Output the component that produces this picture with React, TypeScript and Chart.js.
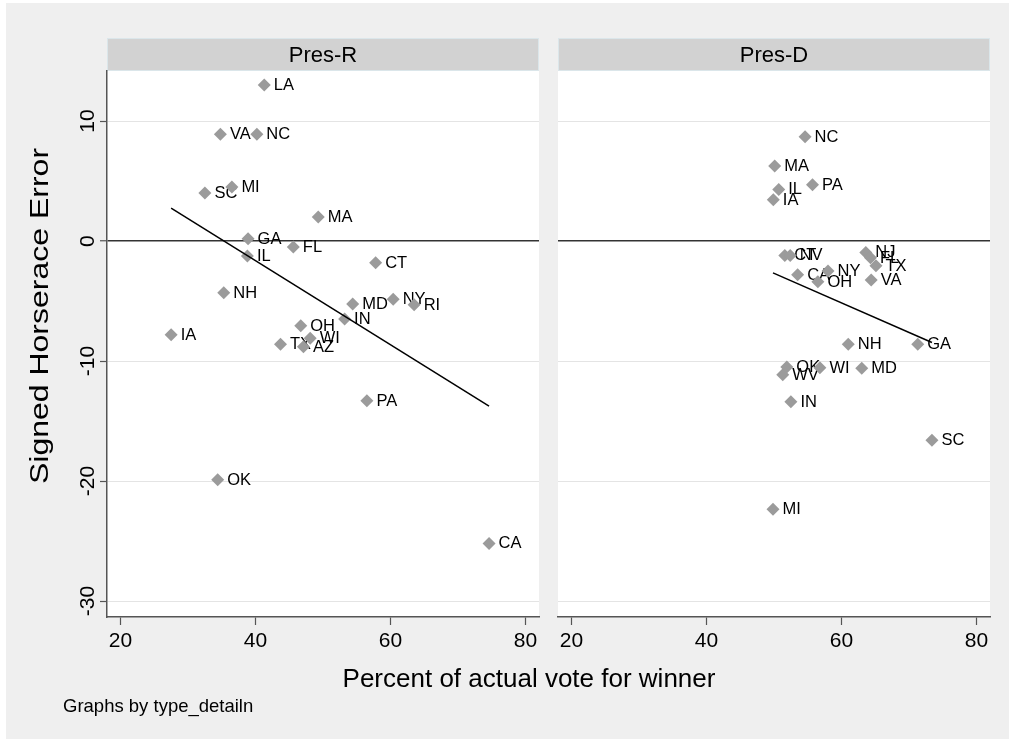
import React, { useEffect, useRef } from "react";
import { Chart, registerables } from "chart.js";
Chart.register(...registerables);

const FONT = '"Liberation Sans", Arial, Helvetica, sans-serif';

// ---- Data ----
const panelTitles = ["Pres-R", "Pres-D"];

const statesR = ["LA", "VA", "NC", "SC", "MI", "MA", "GA", "FL", "IL", "CT", "NH", "MD", "NY", "RI", "IN", "OH", "IA", "WI", "TX", "AZ", "PA", "OK", "CA"];
const voteR = [41.3, 34.8, 40.2, 32.5, 36.5, 49.3, 38.9, 45.6, 38.8, 57.8, 35.3, 54.4, 60.4, 63.5, 53.2, 46.7, 27.5, 48.1, 43.7, 47.1, 56.5, 34.4, 74.6];
const errR = [13.0, 8.9, 8.9, 4.0, 4.5, 2.0, 0.2, -0.5, -1.25, -1.8, -4.3, -5.25, -4.85, -5.3, -6.5, -7.05, -7.8, -8.1, -8.6, -8.8, -13.3, -19.9, -25.2];
const fitR = [
  { x: 27.5, y: 2.75 },
  { x: 74.6, y: -13.75 },
];

const statesD = ["NC", "MA", "PA", "IL", "IA", "CT", "NV", "NJ", "FL", "TX", "CA", "NY", "OH", "VA", "NH", "GA", "MD", "WI", "OK", "WV", "IN", "SC", "MI"];
const voteD = [54.6, 50.1, 55.7, 50.7, 49.9, 51.6, 52.4, 63.6, 64.3, 65.1, 53.5, 58.0, 56.5, 64.4, 61.0, 71.3, 63.0, 56.8, 51.9, 51.3, 52.5, 73.4, 49.85];
const errD = [8.7, 6.25, 4.7, 4.3, 3.45, -1.2, -1.2, -0.95, -1.4, -2.05, -2.8, -2.5, -3.4, -3.25, -8.6, -8.6, -10.6, -10.55, -10.5, -11.15, -13.4, -16.6, -22.35];
const fitD = [
  { x: 49.85, y: -2.65 },
  { x: 73.4, y: -8.45 },
];

const xTicks = [20, 40, 60, 80];
const yTicks = [10, 0, -10, -20, -30];
const xRange = [18, 82];
const yRange = [-31.33, 14.17];

const yTitle = "Signed Horserace Error";
const xTitle = "Percent of actual vote for winner";
const note = "Graphs by type_detailn";

const W = 1015;
const H = 742;
const HEADER_TOP = 38;

function makeConfig(
  title: string,
  states: string[],
  xs: number[],
  ys: number[],
  fit: { x: number; y: number }[],
  isLeft: boolean,
  left: number,
  right: number
): any {
  const pts = xs.map((x, i) => ({ x, y: ys[i] }));

  const framePlugin = {
    id: "frame" + title,
    beforeDraw(chart: any) {
      const { ctx, chartArea: a } = chart;
      ctx.save();
      ctx.fillStyle = "#ffffff";
      ctx.fillRect(a.left, a.top, a.right - a.left, a.bottom - a.top);
      ctx.fillStyle = "#d2d2d2";
      ctx.fillRect(a.left, HEADER_TOP, a.right - a.left, a.top - HEADER_TOP);
      ctx.strokeStyle = "#dbe6ea";
      ctx.lineWidth = 1;
      ctx.strokeRect(a.left + 0.5, HEADER_TOP + 0.5, a.right - a.left - 1, a.top - HEADER_TOP - 1);
      ctx.fillStyle = "#000";
      ctx.font = `22px ${FONT}`;
      ctx.textAlign = "center";
      ctx.textBaseline = "middle";
      ctx.fillText(title, (a.left + a.right) / 2, (HEADER_TOP + a.top) / 2 + 1);
      ctx.restore();
    },
  };

  const labelPlugin = {
    id: "labels" + title,
    beforeDatasetsDraw(chart: any) {
      const ctx = chart.ctx;
      const meta = chart.getDatasetMeta(0);
      ctx.save();
      ctx.font = `16.5px ${FONT}`;
      ctx.fillStyle = "#000";
      ctx.textAlign = "left";
      ctx.textBaseline = "middle";
      meta.data.forEach((el: any, i: number) => {
        ctx.fillText(states[i], el.x + 9.5, el.y + 0.5);
      });
      ctx.restore();
    },
  };

  const textPlugin = {
    id: "texts" + title,
    afterDraw(chart: any) {
      const ctx = chart.ctx;
      ctx.save();
      ctx.fillStyle = "#000";
      if (isLeft) {
        ctx.translate(41, 316);
        ctx.rotate(-Math.PI / 2);
        ctx.scale(1.28, 1);
        ctx.textAlign = "center";
        ctx.textBaseline = "middle";
        ctx.font = `25px ${FONT}`;
        ctx.fillText(yTitle, 0, 0);
      } else {
        ctx.textAlign = "center";
        ctx.textBaseline = "alphabetic";
        ctx.font = `26px ${FONT}`;
        ctx.fillText(xTitle, 529, 687);
        ctx.textAlign = "left";
        ctx.font = `18.5px ${FONT}`;
        ctx.fillText(note, 63, 712);
      }
      ctx.restore();
    },
  };

  const gridColor = (c: any) => (c.tick && c.tick.value === 0 ? "#333333" : "#e4e4e4");
  const gridWidth = (c: any) => (c.tick && c.tick.value === 0 ? 1.5 : 1);

  return {
    type: "scatter",
    data: {
      datasets: [
        {
          data: pts,
          pointStyle: "rectRot",
          pointRadius: 6.5,
          pointHoverRadius: 6.5,
          backgroundColor: "#9b9b9b",
          borderColor: "#9b9b9b",
          borderWidth: 0,
          showLine: false,
          order: 1,
        },
        {
          data: fit,
          showLine: true,
          pointRadius: 0,
          borderColor: "#000000",
          borderWidth: 1.5,
          order: 0,
        },
      ],
    },
    options: {
      animation: false,
      responsive: false,
      devicePixelRatio: 1,
      events: [],
      layout: {
        padding: { left: left - (isLeft ? 87 : 0), right: W - right, top: 71, bottom: H - 617 - 60 },
      },
      plugins: {
        legend: { display: false },
        tooltip: { enabled: false },
        title: { display: false },
      },
      scales: {
        x: {
          type: "linear",
          position: "bottom",
          min: xRange[0],
          max: xRange[1],
          afterBuildTicks: (s: any) => {
            s.ticks = xTicks.map((v) => ({ value: v }));
          },
          afterFit: (s: any) => {
            s.height = 60;
          },
          grid: {
            drawOnChartArea: false,
            drawTicks: true,
            tickLength: 8,
            tickColor: "#555555",
            tickWidth: 1.2,
          },
          border: { display: true, color: "#555555", width: 1.5 },
          ticks: {
            font: { size: 21, family: FONT },
            color: "#000",
            padding: 4,
            maxRotation: 0,
            autoSkip: false,
            callback: (v: any) => String(v),
          },
        },
        y: {
          type: "linear",
          position: "left",
          min: yRange[0],
          max: yRange[1],
          afterBuildTicks: (s: any) => {
            s.ticks = yTicks.map((v) => ({ value: v }));
          },
          afterFit: (s: any) => {
            s.width = isLeft ? 87 : 0;
          },
          grid: {
            color: gridColor,
            lineWidth: gridWidth,
            drawTicks: isLeft,
            tickLength: 7,
            tickColor: "#555555",
            tickWidth: 1.2,
          },
          border: { display: isLeft, color: "#555555", width: 1.5 },
          ticks: {
            display: isLeft,
            font: { size: 21, family: FONT },
            color: "#000",
            minRotation: 90,
            maxRotation: 90,
            crossAlign: "center",
            padding: -3,
            autoSkip: false,
            callback: (v: any) => String(v),
          },
          title: { display: false },
        },
      },
    },
    plugins: [framePlugin, labelPlugin, textPlugin],
  };
}

export default function App() {
  const leftRef = useRef<HTMLCanvasElement | null>(null);
  const rightRef = useRef<HTMLCanvasElement | null>(null);

  useEffect(() => {
    const c1 = new Chart(
      leftRef.current as HTMLCanvasElement,
      makeConfig(panelTitles[0], statesR, voteR, errR, fitR, true, 107, 539)
    );
    const c2 = new Chart(
      rightRef.current as HTMLCanvasElement,
      makeConfig(panelTitles[1], statesD, voteD, errD, fitD, false, 558, 990)
    );
    return () => {
      c1.destroy();
      c2.destroy();
    };
  }, []);

  const canvasStyle: React.CSSProperties = {
    position: "absolute",
    left: 0,
    top: 0,
    width: W,
    height: H,
  };

  return (
    <div style={{ position: "absolute", left: 0, top: 0, width: W, height: H, background: "#ffffff", overflow: "hidden" }}>
      <div style={{ position: "absolute", left: 6, top: 3, width: 1003, height: 736, background: "#efefef" }} />
      <canvas ref={leftRef} width={W} height={H} style={canvasStyle} />
      <canvas ref={rightRef} width={W} height={H} style={canvasStyle} />
    </div>
  );
}
